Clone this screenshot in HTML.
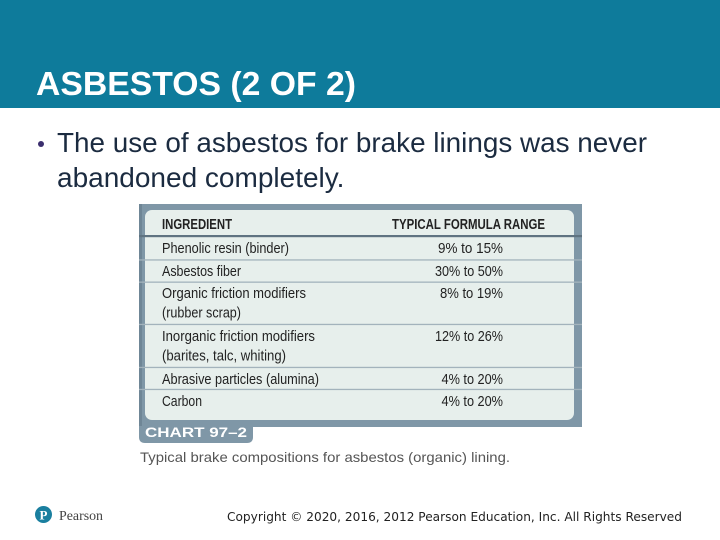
<!DOCTYPE html>
<html><head><meta charset="utf-8"><style>
html,body{margin:0;padding:0;background:#fff;}
svg{display:block;}
</style></head><body>
<svg width="720" height="540" viewBox="0 0 720 540" xmlns="http://www.w3.org/2000/svg">
<rect x="0" y="0" width="720" height="540" fill="#ffffff"/>
<!-- header band -->
<rect x="0" y="0" width="720" height="108" fill="#0e7b9b"/>
<text x="36" y="95" font-family="Liberation Sans, Arial, sans-serif" font-weight="bold" font-size="33" fill="#ffffff" textLength="320" lengthAdjust="spacingAndGlyphs">ASBESTOS (2 OF 2)</text>

<!-- bullet text -->
<circle cx="41" cy="144" r="3" fill="#3b2e6e"/>
<text x="57" y="152" font-family="Liberation Sans, Arial, sans-serif" font-size="28" fill="#1b2b40" textLength="590" lengthAdjust="spacingAndGlyphs">The use of asbestos for brake linings was never</text>
<text x="57" y="187" font-family="Liberation Sans, Arial, sans-serif" font-size="28" fill="#1b2b40">abandoned completely.</text>

<!-- table frame -->
<rect x="139" y="204" width="443" height="223" fill="#7f97a7"/>
<rect x="139" y="204" width="3" height="223" fill="#6f8696"/>
<rect x="145" y="210" width="429" height="210" rx="7" ry="7" fill="#e7efec"/>
<!-- lines -->
<rect x="139" y="235" width="443" height="2.2" fill="#5f7381"/>
<g fill="#a3b3bc">
<rect x="139" y="259.3" width="443" height="1.3"/>
<rect x="139" y="281.5" width="443" height="1.3"/>
<rect x="139" y="323.8" width="443" height="1.3"/>
<rect x="139" y="366.8" width="443" height="1.3"/>
<rect x="139" y="388.8" width="443" height="1.3"/>
</g>
<!-- table text -->
<g font-family="Liberation Sans Narrow, Liberation Sans, Arial, sans-serif" fill="#222222" font-size="14.5">
<text x="162" y="229" font-weight="bold" textLength="70" lengthAdjust="spacingAndGlyphs">INGREDIENT</text>
<text x="392" y="229" font-weight="bold" textLength="153" lengthAdjust="spacingAndGlyphs">TYPICAL FORMULA RANGE</text>

<text x="162" y="253" textLength="127" lengthAdjust="spacingAndGlyphs">Phenolic resin (binder)</text>
<text x="438" y="253" textLength="65" lengthAdjust="spacingAndGlyphs">9% to 15%</text>

<text x="162" y="276" textLength="79" lengthAdjust="spacingAndGlyphs">Asbestos fiber</text>
<text x="435" y="276" textLength="68" lengthAdjust="spacingAndGlyphs">30% to 50%</text>

<text x="162" y="298" textLength="144" lengthAdjust="spacingAndGlyphs">Organic friction modifiers</text>
<text x="440" y="298" textLength="63" lengthAdjust="spacingAndGlyphs">8% to 19%</text>
<text x="162" y="317.5" textLength="79" lengthAdjust="spacingAndGlyphs">(rubber scrap)</text>

<text x="162" y="341" textLength="153" lengthAdjust="spacingAndGlyphs">Inorganic friction modifiers</text>
<text x="435" y="341" textLength="68" lengthAdjust="spacingAndGlyphs">12% to 26%</text>
<text x="162" y="360.5" textLength="124" lengthAdjust="spacingAndGlyphs">(barites, talc, whiting)</text>

<text x="162" y="384" textLength="157" lengthAdjust="spacingAndGlyphs">Abrasive particles (alumina)</text>
<text x="441.5" y="384" textLength="61.5" lengthAdjust="spacingAndGlyphs">4% to 20%</text>

<text x="162" y="406" textLength="40" lengthAdjust="spacingAndGlyphs">Carbon</text>
<text x="441.5" y="406" textLength="61.5" lengthAdjust="spacingAndGlyphs">4% to 20%</text>
</g>

<!-- chart tab -->
<path d="M139 426 H253 V437 Q253 443 247 443 H145 Q139 443 139 437 Z" fill="#7f97a7"/>
<text x="145" y="437" font-family="Liberation Sans, Arial, sans-serif" font-weight="bold" font-size="13.5" fill="#ffffff" textLength="102" lengthAdjust="spacingAndGlyphs">CHART 97–2</text>

<!-- caption -->
<text x="140" y="462" font-family="Liberation Sans, Arial, sans-serif" font-size="14" fill="#555555" textLength="370" lengthAdjust="spacingAndGlyphs">Typical brake compositions for asbestos (organic) lining.</text>

<!-- footer logo -->
<circle cx="43.5" cy="514.5" r="8.5" fill="#1a7f9f"/>
<text x="43.5" y="519.5" text-anchor="middle" font-family="Liberation Serif, serif" font-weight="bold" font-size="13" fill="#ffffff">P</text>
<text x="59" y="520" font-family="Liberation Serif, serif" font-size="14" fill="#444444" textLength="44" lengthAdjust="spacingAndGlyphs">Pearson</text>

<!-- copyright -->
<text x="227" y="521" font-family="DejaVu Sans, Verdana, sans-serif" font-size="12" fill="#222222" textLength="455" lengthAdjust="spacingAndGlyphs">Copyright © 2020, 2016, 2012 Pearson Education, Inc. All Rights Reserved</text>
</svg>
</body></html>
